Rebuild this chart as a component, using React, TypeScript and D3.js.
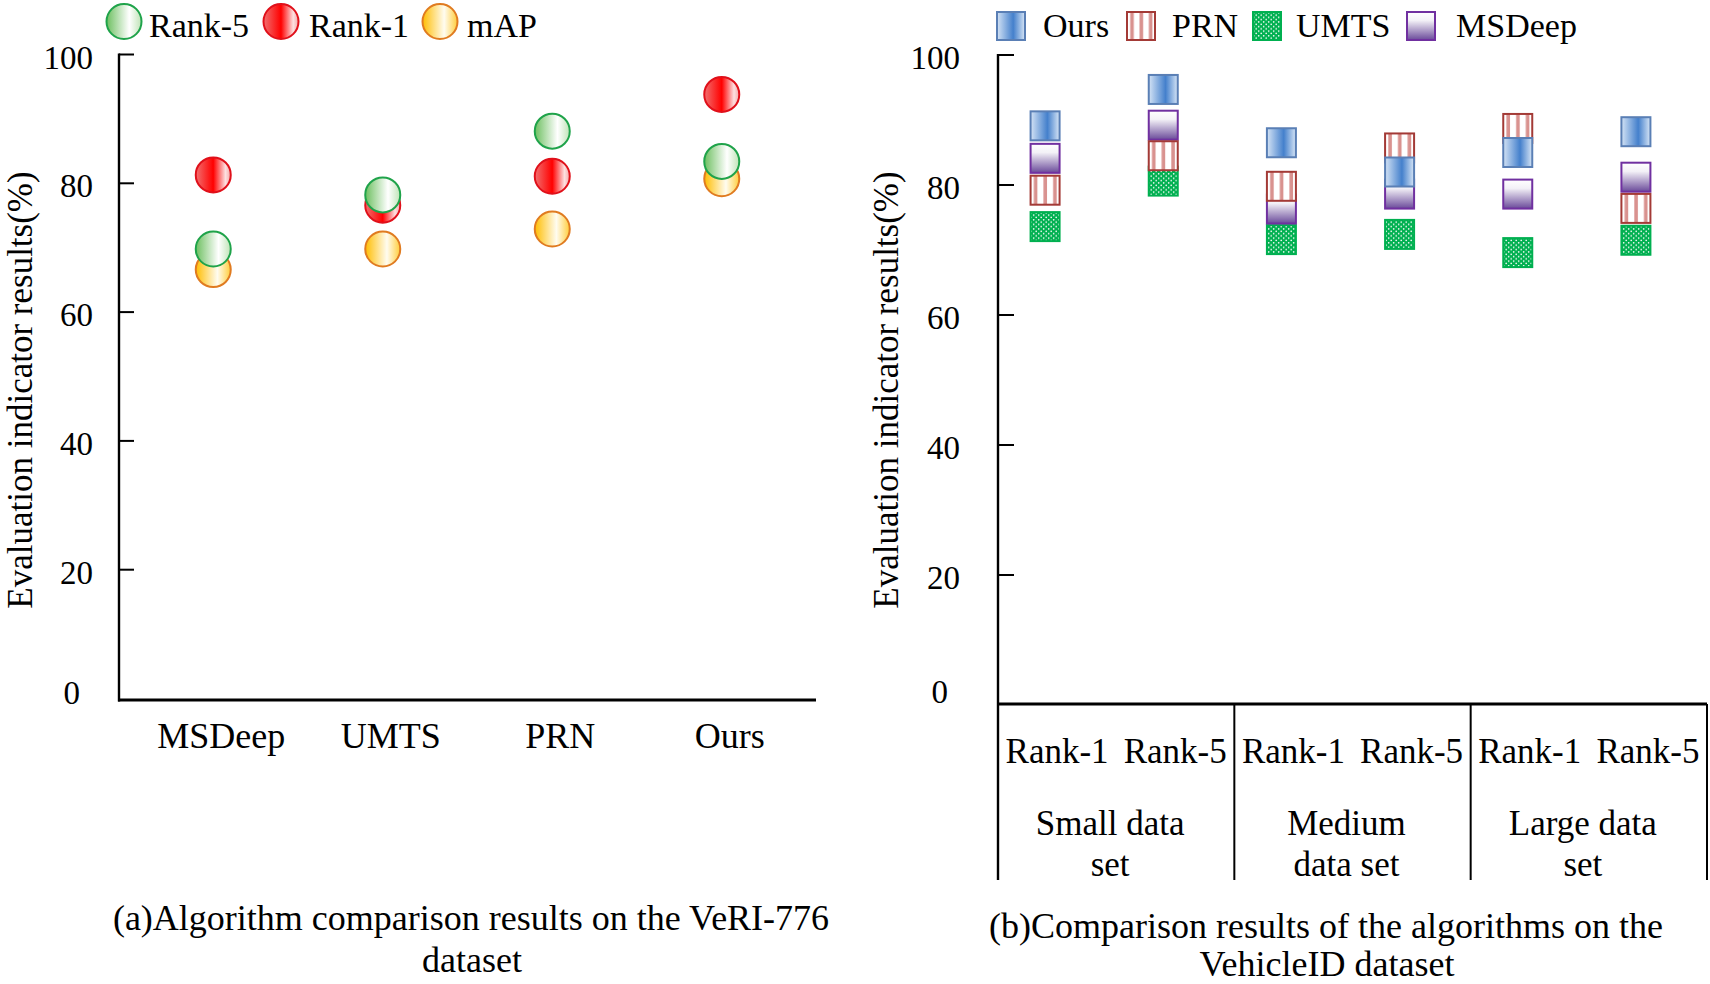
import * as d3 from 'd3';

const W = 1710;
const H = 984;
const FONT = '"Liberation Serif", "Times New Roman", serif';

// (a) VeRI-776
const veriMethods = ['MSDeep', 'UMTS', 'PRN', 'Ours'];
const veriRank5 = [69.8, 78.2, 88.1, 83.4];
const veriRank1 = [81.3, 76.6, 81.1, 93.8];
const veriMap = [66.6, 69.8, 72.9, 80.7];

// (b) VehicleID, slots = Rank-1 / Rank-5 for each data set size
const sizeGroups = [['Small data', 'set'], ['Medium', 'data set'], ['Large data', 'set']];
const metrics = ['Rank-1', 'Rank-5'];
const oursVals = [89.1, 94.7, 86.5, 82.0, 85.0, 88.2];
const prnVals = [79.2, 84.5, 79.8, 85.7, 88.7, 76.4];
const umtsVals = [73.6, 80.6, 71.6, 72.4, 69.6, 71.5];
const msdeepVals = [84.1, 89.2, 76.3, 78.6, 78.6, 81.2];

const yTicks = [0, 20, 40, 60, 80, 100];

const LEFT = { x0: 119, x1: 816, y0: 698.5, y1: 54.5 };
const RIGHT = { x0: 998, x1: 1707, y0: 705, y1: 55, tableBottom: 880 };
const R = 17.5;
const SQ = 29;
const MARK_SHIFT = -12;

const circleSeries = [
  { key: 'map', label: 'mAP', values: veriMap, fill: 'url(#gMap)', stroke: '#e07b20' },
  { key: 'r1', label: 'Rank-1', values: veriRank1, fill: 'url(#gR1)', stroke: '#e0101a' },
  { key: 'r5', label: 'Rank-5', values: veriRank5, fill: 'url(#gR5)', stroke: '#1fa34a' },
];
const circleLegend = [
  { s: circleSeries[2], cx: 124, tx: 149 },
  { s: circleSeries[1], cx: 281, tx: 309 },
  { s: circleSeries[0], cx: 440, tx: 467 },
];

const squareSeries = [
  { key: 'umts', label: 'UMTS', values: umtsVals, fill: 'url(#pDots)', stroke: '#00b050' },
  { key: 'msdeep', label: 'MSDeep', values: msdeepVals, fill: 'url(#gMs)', stroke: '#7030a0' },
  { key: 'prn', label: 'PRN', values: prnVals, fill: 'url(#pStripe)', stroke: '#a33a36' },
  { key: 'ours', label: 'Ours', values: oursVals, fill: 'url(#gOurs)', stroke: '#5a7fb5' },
];
const squareLegend = [
  { s: squareSeries[3], x: 997, tx: 1043 },
  { s: squareSeries[2], x: 1127, tx: 1172 },
  { s: squareSeries[0], x: 1253, tx: 1296 },
  { s: squareSeries[1], x: 1407, tx: 1456 },
];

export default function App() {
  const xL = d3.scalePoint().domain(veriMethods).range([LEFT.x0, LEFT.x1]).padding(0.556);
  const yL = d3.scaleLinear().domain([0, 100]).range([LEFT.y0, LEFT.y1]);

  const slots = sizeGroups.flatMap((g, gi) => metrics.map((m) => `${gi}-${m}`));
  const xR = d3.scaleBand().domain(slots).range([RIGHT.x0, RIGHT.x1]);
  const xGroup = d3.scaleBand().domain(sizeGroups.map((_, i) => String(i))).range([RIGHT.x0, RIGHT.x1]);
  const yR = d3.scaleLinear().domain([0, 100]).range([RIGHT.y0, RIGHT.y1]);
  const markX = (i: number) => xR(slots[i])! + xR.bandwidth() / 2 + MARK_SHIFT;

  return (
    <svg
      width={W}
      height={H}
      style={{ position: 'absolute', left: 0, top: 0, background: '#fff' }}
      fontFamily={FONT}
    >
      <defs>
        <linearGradient id="gR5" x1="0" x2="1" y1="0" y2="0">
          <stop offset="0" stopColor="#6cbf5f" />
          <stop offset="0.65" stopColor="#ffffff" />
          <stop offset="1" stopColor="#bfe3b6" />
        </linearGradient>
        <linearGradient id="gR1" x1="0" x2="1" y1="0" y2="0">
          <stop offset="0" stopColor="#f27070" />
          <stop offset="0.5" stopColor="#ff0000" />
          <stop offset="0.85" stopColor="#fde0e0" />
          <stop offset="1" stopColor="#f4a8a8" />
        </linearGradient>
        <linearGradient id="gMap" x1="0" x2="1" y1="0" y2="0">
          <stop offset="0" stopColor="#ffbd00" />
          <stop offset="0.62" stopColor="#fffcf0" />
          <stop offset="1" stopColor="#ffcd3a" />
        </linearGradient>
        <linearGradient id="gOurs" x1="0" x2="1" y1="0" y2="0">
          <stop offset="0" stopColor="#d4e3f5" />
          <stop offset="0.58" stopColor="#4480cc" />
          <stop offset="1" stopColor="#d8e6f6" />
        </linearGradient>
        <linearGradient id="gMs" x1="0" x2="0" y1="0" y2="1">
          <stop offset="0" stopColor="#ffffff" />
          <stop offset="0.3" stopColor="#f3f1f7" />
          <stop offset="1" stopColor="#6a4a9a" />
        </linearGradient>
        <pattern id="pStripe" patternUnits="objectBoundingBox" width={1 / 3} height={1}>
          <rect x={0} y={0} width={12} height={40} fill="#ffffff" />
          <rect x={3.2} y={0} width={3.6} height={40} fill="#d9928f" />
        </pattern>
        <pattern id="pDots" patternUnits="userSpaceOnUse" width={5} height={4.6}>
          <rect width={5} height={4.6} fill="#00b050" />
          <circle cx={1.2} cy={1.2} r={0.85} fill="#ffffff" />
          <circle cx={3.7} cy={3.5} r={0.85} fill="#ffffff" />
        </pattern>
      </defs>

      {/* ---------- (a) ---------- */}
      {circleLegend.map(({ s, cx, tx }) => (
        <g key={s.key}>
          <circle cx={cx} cy={21.5} r={R} fill={s.fill} stroke={s.stroke} strokeWidth={2} />
          <text x={tx} y={36.7} fontSize={34}>
            {s.label}
          </text>
        </g>
      ))}

      <line x1={LEFT.x0} x2={LEFT.x0} y1={LEFT.y1 - 1} y2={LEFT.y0 + 3} stroke="#000" strokeWidth={2.4} />
      <line x1={LEFT.x0 - 1} x2={LEFT.x1} y1={LEFT.y0 + 1.5} y2={LEFT.y0 + 1.5} stroke="#000" strokeWidth={3.2} />
      {yTicks.map((t) => (
        <g key={t}>
          {t > 0 && <line x1={LEFT.x0} x2={LEFT.x0 + 15} y1={yL(t)} y2={yL(t)} stroke="#000" strokeWidth={2} />}
          <text
            x={t === 0 ? LEFT.x0 - 39 : LEFT.x0 - 26}
            y={yL(t) + (t === 0 ? -6 : 3)}
            textAnchor="end"
            dominantBaseline="central"
            fontSize={33}
          >
            {t}
          </text>
        </g>
      ))}
      <text transform={`translate(32,390) rotate(-90)`} textAnchor="middle" fontSize={35}>
        Evaluation indicator results(%)
      </text>
      {veriMethods.map((m) => (
        <text key={m} x={xL(m)! + 8} y={748} textAnchor="middle" fontSize={36}>
          {m}
        </text>
      ))}
      {circleSeries.map((s) =>
        s.values.map((v, i) => (
          <circle
            key={`${s.key}-${i}`}
            cx={xL(veriMethods[i])}
            cy={yL(v)}
            r={R}
            fill={s.fill}
            stroke={s.stroke}
            strokeWidth={2}
          />
        )),
      )}
      <text x={471} y={930} textAnchor="middle" fontSize={36}>
        (a)Algorithm comparison results on the VeRI-776
      </text>
      <text x={472} y={972} textAnchor="middle" fontSize={36}>
        dataset
      </text>

      {/* ---------- (b) ---------- */}
      {squareLegend.map(({ s, x, tx }) => (
        <g key={s.key}>
          <rect x={x} y={12} width={28} height={28} fill={s.fill} stroke={s.stroke} strokeWidth={2} />
          <text x={tx} y={37} fontSize={34}>
            {s.label}
          </text>
        </g>
      ))}

      <line x1={RIGHT.x0} x2={RIGHT.x0} y1={RIGHT.y1 - 1} y2={RIGHT.tableBottom} stroke="#000" strokeWidth={2.4} />
      <line x1={RIGHT.x0} x2={RIGHT.x1} y1={RIGHT.y0 - 1} y2={RIGHT.y0 - 1} stroke="#000" strokeWidth={3.2} />
      {yTicks.map((t) => (
        <g key={t}>
          {t > 0 && <line x1={RIGHT.x0} x2={RIGHT.x0 + 16} y1={yR(t)} y2={yR(t)} stroke="#000" strokeWidth={2} />}
          <text
            x={t === 0 ? RIGHT.x0 - 50 : RIGHT.x0 - 38}
            y={yR(t) + (t === 0 ? -13 : 3)}
            textAnchor="end"
            dominantBaseline="central"
            fontSize={33}
          >
            {t}
          </text>
        </g>
      ))}
      <text transform={`translate(898,390) rotate(-90)`} textAnchor="middle" fontSize={35}>
        Evaluation indicator results(%)
      </text>

      {/* category table under the axis */}
      {sizeGroups.map((g, gi) => {
        const gx = xGroup(String(gi))!;
        const gw = xGroup.bandwidth();
        return (
          <g key={gi}>
            <line x1={gx + gw} x2={gx + gw} y1={RIGHT.y0 - 1} y2={RIGHT.tableBottom} stroke="#000" strokeWidth={2} />
            {g.map((line, li) => (
              <text key={li} x={gx + gw / 2 - 6} y={835 + li * 41} textAnchor="middle" fontSize={35}>
                {line}
              </text>
            ))}
          </g>
        );
      })}
      {slots.map((s, i) => (
        <text key={s} x={xR(s)! + xR.bandwidth() / 2} y={763} textAnchor="middle" fontSize={35}>
          {metrics[i % 2]}
        </text>
      ))}

      {squareSeries.map((s) =>
        s.values.map((v, i) => (
          <rect
            key={`${s.key}-${i}`}
            x={markX(i) - SQ / 2}
            y={yR(v) - SQ / 2}
            width={SQ}
            height={SQ}
            fill={s.fill}
            stroke={s.stroke}
            strokeWidth={2}
          />
        )),
      )}

      <text x={1326} y={938} textAnchor="middle" fontSize={36}>
        (b)Comparison results of the algorithms on the
      </text>
      <text x={1327} y={976} textAnchor="middle" fontSize={36}>
        VehicleID dataset
      </text>
    </svg>
  );
}
